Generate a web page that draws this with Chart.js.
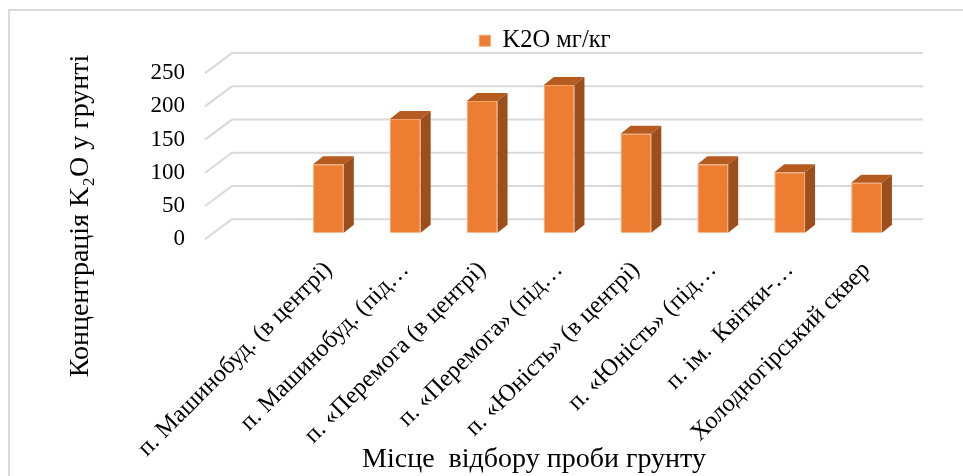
<!DOCTYPE html>
<html>
<head>
<meta charset="utf-8">
<script src="https://cdn.jsdelivr.net/npm/chart.js@4.4.1/dist/chart.umd.min.js"></script>
<style>
  html, body { margin: 0; padding: 0; background: #fff; }
</style>
</head>
<body>
<canvas id="k2oChart" width="963" height="476"></canvas>
<script>
// places where the soil was sampled (as shown on the axis, Excel cut the long ones)
const places = [
  'п. Машинобуд. (в центрі)',
  'п. Машинобуд. (під…',
  'п. «Перемога (в центрі)',
  'п. «Перемога» (під…',
  'п. «Юність» (в центрі)',
  'п. «Юність» (під…',
  'п. ім.  Квітки-…',
  'Холодногірський сквер'
];
const k2oValues = [103, 171, 198, 222, 149, 103, 91, 75];
const yTicks = [0, 50, 100, 150, 200, 250];
const seriesName = 'K2O мг/кг';

const FONT = "'Liberation Serif', 'Times New Roman', serif";

// fake 3d look like the excel chart
const DX = 10, DY = 8;         // bar depth
const WALL = 13.4, FRONT = 6.6; // back wall / front edge offset from the bar plane

const depth3d = {
  id: 'depth3d',
  beforeDraw(chart) {
    const ctx = chart.ctx;
    ctx.save();
    ctx.strokeStyle = '#d9d9d9';
    ctx.lineWidth = 2;
    ctx.strokeRect(9, 10, chart.width + 20, chart.height + 20);
    ctx.restore();
  },
  afterLayout(chart) {
    // move legend and axis titles where excel put them
    const lg = chart.legend;
    const dx = 545 - (lg.left + lg.right) / 2;
    lg.left += dx; lg.right += dx;
    lg.top -= 3.5; lg.bottom -= 3.5;
    const xs = chart.scales.x;
    xs.left = 2 * 534 - xs.right;
    const ys = chart.scales.y;
    ys.bottom = 2 * 216 - ys.top;
  },
  beforeDatasetsDraw(chart) {
    const ctx = chart.ctx;
    const y = chart.scales.y;
    const area = chart.chartArea;
    const backLeft = area.left - 58, frontLeft = area.left - 85, right = area.right + 18;
    ctx.save();
    ctx.strokeStyle = '#d9d9d9';
    ctx.lineWidth = 2;
    y.ticks.forEach(function(t) {
      const yp = y.getPixelForValue(t.value);
      ctx.beginPath();
      ctx.moveTo(frontLeft, yp + FRONT);
      ctx.lineTo(backLeft, yp - WALL);
      ctx.lineTo(right, yp - WALL);
      ctx.stroke();
    });
    ctx.restore();
  },
  afterDatasetsDraw(chart) {
    const ctx = chart.ctx;
    const meta = chart.getDatasetMeta(0);
    ctx.save();
    meta.data.forEach(function(bar) {
      const p = bar.getProps(['x', 'y', 'base', 'width'], true);
      const l = p.x - p.width / 2, r = p.x + p.width / 2;
      // top
      ctx.fillStyle = '#b65b1f';
      ctx.beginPath();
      ctx.moveTo(l, p.y);
      ctx.lineTo(l + DX, p.y - DY);
      ctx.lineTo(r + DX, p.y - DY);
      ctx.lineTo(r, p.y);
      ctx.closePath();
      ctx.fill();
      // side
      ctx.fillStyle = '#9c4f1d';
      ctx.beginPath();
      ctx.moveTo(r, p.y);
      ctx.lineTo(r + DX, p.y - DY);
      ctx.lineTo(r + DX, p.base - DY);
      ctx.lineTo(r, p.base);
      ctx.closePath();
      ctx.fill();
    });
    ctx.restore();
  }
};

new Chart(document.getElementById('k2oChart').getContext('2d'), {
  type: 'bar',
  data: {
    labels: places,
    datasets: [{
      label: seriesName,
      data: k2oValues,
      backgroundColor: '#ed7d31',
      borderColor: '#f4a46c',
      borderWidth: 1,
      barPercentage: 0.4,
      categoryPercentage: 1
    }]
  },
  options: {
    responsive: false,
    animation: false,
    layout: { padding: { top: 22, right: 58, bottom: 0, left: 0 } },
    plugins: {
      tooltip: { enabled: false },
      legend: {
        position: 'top',
        labels: {
          boxWidth: 11,
          boxHeight: 11,
          color: '#000',
          font: { family: FONT, size: 24.5 }
        }
      }
    },
    scales: {
      x: {
        grid: { display: false },
        border: { display: false },
        ticks: {
          color: '#000',
          font: { family: FONT, size: 24.5 },
          minRotation: 45,
          maxRotation: 45,
          autoSkip: false,
          padding: 15
        },
        title: {
          display: true,
          text: 'Місце  відбору проби грунту',
          color: '#000',
          font: { family: FONT, size: 28 },
          padding: { top: 0, bottom: 0 }
        },
        afterFit: function(s) { s.height = 243.3; }
      },
      y: {
        min: 0,
        max: 250,
        // tick marks hidden, tickLength only pushes the labels left
        grid: { display: false, drawTicks: true, tickLength: 100 },
        border: { display: false },
        afterBuildTicks: function(s) { s.ticks = yTicks.map(v => ({ value: v })); },
        ticks: {
          color: '#000',
          font: { family: FONT, size: 23 },
          padding: 5,
          labelOffset: 6.6,
          autoSkip: false
        },
        title: {
          display: true,
          text: 'Концентрація K₂O у грунті',
          color: '#000',
          font: { family: FONT, size: 28 },
          padding: { top: 64, bottom: 0 }
        },
        afterFit: function(s) { s.width = 290; }
      }
    }
  },
  plugins: [depth3d]
});
</script>
</body>
</html>
